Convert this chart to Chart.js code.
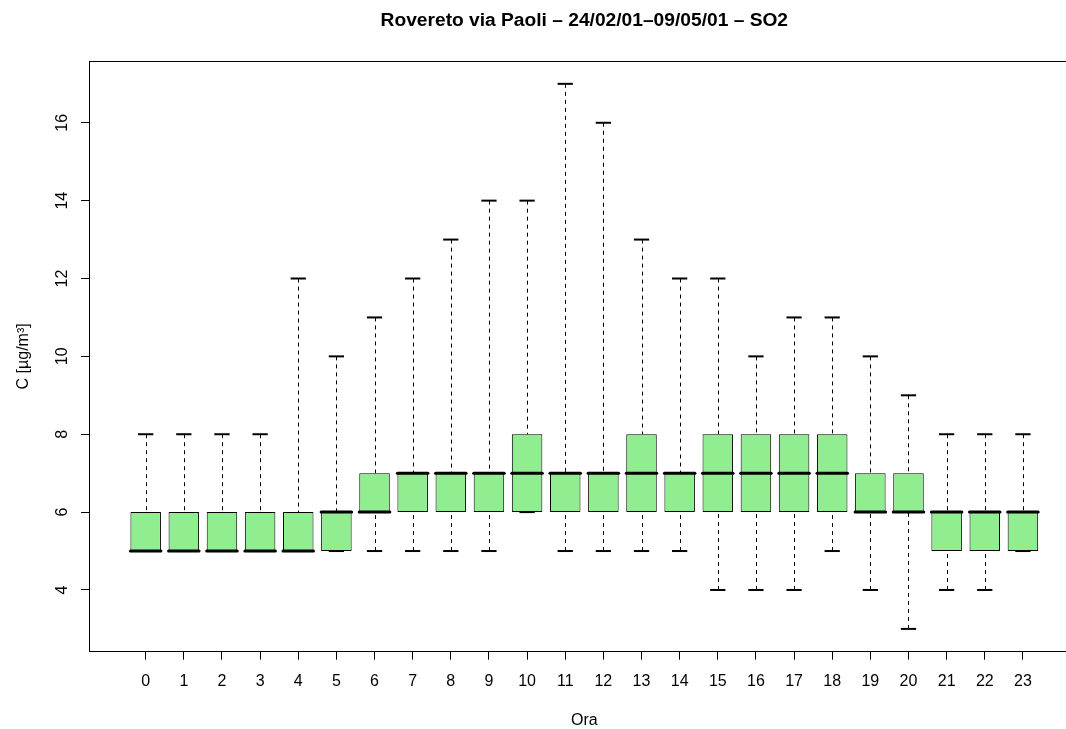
<!DOCTYPE html>
<html>
<head>
<meta charset="utf-8">
<title>Rovereto via Paoli – SO2</title>
<script src="https://cdn.jsdelivr.net/npm/chart.js@4/dist/chart.umd.min.js"></script>
<style>
  html, body { margin: 0; padding: 0; background: #fff; overflow: hidden; }
  #wrap { width: 1090px; height: 729px; }
  canvas { display: block; }
</style>
</head>
<body>
<div id="wrap"><canvas id="chart" width="1090" height="729"></canvas></div>
<script>
// Hourly SO2 concentration distribution, five-number summary per hour
const hours        = [0, 1, 2, 3, 4, 5, 6, 7, 8, 9, 10, 11, 12, 13, 14, 15, 16, 17, 18, 19, 20, 21, 22, 23];
const whiskerLow   = [5, 5, 5, 5, 5, 5, 5, 5, 5, 5, 6, 5, 5, 5, 5, 4, 4, 4, 5, 4, 3, 4, 4, 5];
const quartileLow  = [5, 5, 5, 5, 5, 5, 6, 6, 6, 6, 6, 6, 6, 6, 6, 6, 6, 6, 6, 6, 6, 5, 5, 5];
const medians      = [5, 5, 5, 5, 5, 6, 6, 7, 7, 7, 7, 7, 7, 7, 7, 7, 7, 7, 7, 6, 6, 6, 6, 6];
const quartileHigh = [6, 6, 6, 6, 6, 6, 7, 7, 7, 7, 8, 7, 7, 8, 7, 8, 8, 8, 8, 7, 7, 6, 6, 6];
const whiskerHigh  = [8, 8, 8, 8, 12, 10, 11, 12, 13, 14, 14, 17, 16, 13, 12, 12, 10, 11, 11, 10, 9, 8, 8, 8];
const yTickValues  = [4, 6, 8, 10, 12, 14, 16];

const chartTitle = 'Rovereto via Paoli \u2013 24/02/01\u201309/05/01 \u2013 SO2';
const xTitle = 'Ora';
const yTitle = 'C [\u00b5g/m\u00b3]';

const FONT = "'Liberation Sans', Arial, Helvetica, sans-serif";

// Whiskers, staples, medians and the frame, drawn through the chart's scales
const boxplotExtras = {
  id: 'boxplotExtras',
  afterDatasetsDraw(chart) {
    const ctx = chart.ctx;
    const y = chart.scales.y;
    const bars = chart.getDatasetMeta(0).data;
    ctx.save();
    bars.forEach((bar, i) => {
      const cx = bar.x;
      const w = bar.width;
      // dashed whiskers, drawn from the staple towards the box
      ctx.strokeStyle = '#000';
      ctx.lineWidth = 1;
      ctx.setLineDash([4, 4]);
      ctx.lineCap = 'butt';
      const xs = Math.round(cx) + 0.5;
      if (whiskerHigh[i] > quartileHigh[i]) {
        ctx.beginPath();
        ctx.moveTo(xs, y.getPixelForValue(whiskerHigh[i]));
        ctx.lineTo(xs, y.getPixelForValue(quartileHigh[i]));
        ctx.stroke();
      }
      if (whiskerLow[i] < quartileLow[i]) {
        ctx.beginPath();
        ctx.moveTo(xs, y.getPixelForValue(whiskerLow[i]));
        ctx.lineTo(xs, y.getPixelForValue(quartileLow[i]));
        ctx.stroke();
      }
      ctx.setLineDash([]);
      // staples at half the box width
      ctx.lineWidth = 2;
      [whiskerHigh[i], whiskerLow[i]].forEach(v => {
        const py = y.getPixelForValue(v);
        ctx.beginPath();
        ctx.moveTo(cx - w / 4, py);
        ctx.lineTo(cx + w / 4, py);
        ctx.stroke();
      });
      // thick median line
      ctx.lineWidth = 3;
      ctx.lineCap = 'round';
      const pm = y.getPixelForValue(medians[i]);
      ctx.beginPath();
      ctx.moveTo(cx - w / 2, pm);
      ctx.lineTo(cx + w / 2, pm);
      ctx.stroke();
    });
    // plot frame
    const a = chart.chartArea;
    ctx.lineWidth = 1;
    ctx.lineCap = 'butt';
    ctx.strokeStyle = '#000';
    ctx.strokeRect(Math.round(a.left) - 0.5, Math.round(a.top) - 0.5,
                   Math.round(a.right - a.left) + 1, Math.round(a.bottom - a.top) + 1);
    ctx.restore();
  }
};

const boxData = hours.map((h, i) => ({ x: h, y: [quartileLow[i], quartileHigh[i]] }));

new Chart(document.getElementById('chart'), {
  type: 'bar',
  data: {
    datasets: [{
      data: boxData,
      backgroundColor: '#90EE90',
      borderColor: '#000',
      borderWidth: 1,
      borderSkipped: false,
      categoryPercentage: 0.8,
      barPercentage: 1.0
    }]
  },
  options: {
    responsive: false,
    animation: false,
    devicePixelRatio: 1,
    layout: { padding: { left: 0, right: 11.4, top: 0, bottom: 0 } },
    plugins: {
      legend: { display: false },
      tooltip: { enabled: false },
      title: {
        display: true,
        text: chartTitle,
        fullSize: false,
        color: '#000',
        font: { family: FONT, size: 19.2, weight: 'bold', lineHeight: 1.2 },
        padding: { top: 9.5, bottom: 29.5 }
      }
    },
    scales: {
      x: {
        type: 'linear',
        offset: false,
        min: -1.46,
        max: 24.46,
        afterBuildTicks: s => { s.ticks = hours.map(v => ({ value: v })); },
        afterFit: s => { s.height = 78.3; },
        ticks: {
          autoSkip: false,
          maxRotation: 0,
          minRotation: 0,
          padding: 12,
          color: '#000',
          font: { family: FONT, size: 16 },
          callback: v => String(v)
        },
        grid: { display: true, offset: false, drawOnChartArea: false, drawTicks: true, tickLength: 9, tickColor: '#000', lineWidth: 1 },
        border: { display: false },
        title: {
          display: true,
          text: xTitle,
          color: '#000',
          font: { family: FONT, size: 16, lineHeight: 1 },
          padding: { top: 0, bottom: 0.5 }
        }
      },
      y: {
        type: 'linear',
        min: 2.44,
        max: 17.56,
        afterBuildTicks: s => { s.ticks = yTickValues.map(v => ({ value: v })); },
        afterFit: s => { s.width = 90; },
        ticks: {
          minRotation: 90,
          maxRotation: 90,
          crossAlign: 'center',
          padding: 10,
          color: '#000',
          font: { family: FONT, size: 16 },
          callback: v => String(v)
        },
        grid: { display: true, offset: false, drawOnChartArea: false, drawTicks: true, tickLength: 9, tickColor: '#000', lineWidth: 1 },
        border: { display: false },
        title: {
          display: true,
          text: yTitle,
          color: '#000',
          font: { family: FONT, size: 16, lineHeight: 1.2 },
          padding: { top: 13.9, bottom: 0 }
        }
      }
    }
  },
  plugins: [boxplotExtras]
});
</script>
</body>
</html>
